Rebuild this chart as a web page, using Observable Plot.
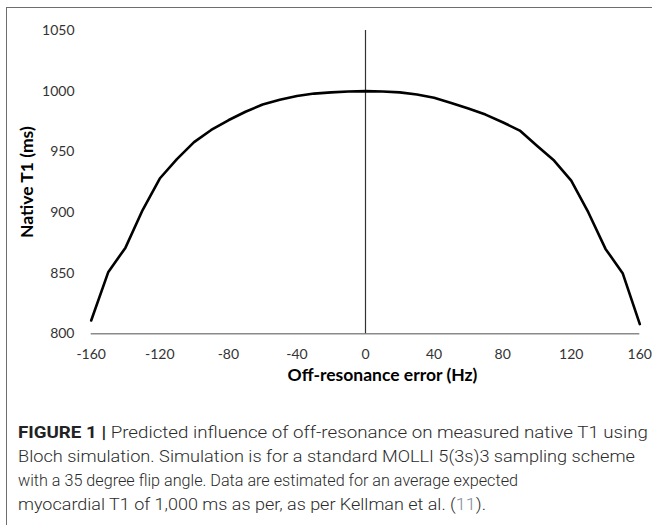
<!DOCTYPE html>
<html><head><meta charset="utf-8">
<script src="https://cdn.jsdelivr.net/npm/d3@7"></script>
<script src="https://cdn.jsdelivr.net/npm/@observablehq/plot@0.6"></script>
<style>
html,body{margin:0;padding:0;background:#fff}
body{width:652px;height:525px;overflow:hidden;position:relative}
#frame{position:absolute;left:6px;top:7px;right:-2px;bottom:-2px;border-left:1.6px solid #6e6e6e;border-top:1.6px solid #6e6e6e}
#chart{position:absolute;left:0;top:0}
#caption{position:absolute;left:18px;top:421px;font-family:Roboto,"Liberation Sans",Arial,sans-serif;font-weight:300;font-size:16.5px;line-height:24px;color:#2b2b2b}
#caption span.l{display:block;white-space:nowrap;transform-origin:0 50%}
#caption b{font-weight:bold;color:#222}
#caption .ref{color:#8090a0}
</style>
</head><body>
<div id="frame"></div>
<div id="chart"></div>
<div id="caption">
<span class="l" data-w="630"><b>FIGURE 1 |</b> Predicted influence of off-resonance on measured native T1 using</span>
<span class="l" data-w="617">Bloch simulation. Simulation is for a standard MOLLI 5(3s)3 sampling scheme</span>
<span class="l" data-w="500">with a 35 degree flip angle. Data are estimated for an average expected</span>
<span class="l" data-w="468">myocardial T1 of 1,000 ms as per, as per Kellman et al. (<span class="ref">11</span>).</span>
</div>
<script>
const offResonanceHz = [-160,-150,-140,-130,-120,-110,-100,-90,-80,-70,-60,-50,-40,-30,-20,-10,0,10,20,30,40,50,60,70,80,90,100,110,120,130,140,150,160];
const nativeT1 = [811,851,871,902,928,944,958,968,976,983,989,993,996,998,999,999.7,1000,999.7,999,997.2,994.5,990.3,985.7,980.7,974.4,967.5,955,942.8,926.3,900,870,850,808];
const xTicks = [-160,-120,-80,-40,0,40,80,120,160];
const yTicks = [800,850,900,950,1000,1050];
const xLabel = "Off-resonance error (Hz)";
const yLabel = "Native T1 (ms)";

const data = offResonanceHz.map((x,i)=>({x, y: nativeT1[i]}));

const chart = Plot.plot({
  width: 652,
  height: 400,
  marginLeft: 90.7,
  marginRight: 12.7,
  marginTop: 30,
  marginBottom: 66.7,
  style: {fontFamily: "Lato, sans-serif", fontSize: "14px", color: "#333", background: "transparent"},
  x: {domain: [-160,160]},
  y: {domain: [800,1050]},
  marks: [
    Plot.axisX({ticks: xTicks, tickSize: 0, tickPadding: 15, tickFormat: d=>String(d), fontSize: 14, label: null}),
    Plot.axisY({ticks: yTicks, tickSize: 0, tickPadding: 16.7, tickFormat: d=>String(d), fontSize: 14, label: null}),
    Plot.text([xLabel], {frameAnchor: "bottom", text: d=>d, dx: 17, dy: 47, fontWeight: "bold", fontSize: 17.5, fill: "#000"}),
    Plot.text([yLabel], {frameAnchor: "left", textAnchor: "middle", text: d=>d, rotate: -90, dx: -64, fontWeight: "bold", fontSize: 17.5, fill: "#000"}),
    Plot.ruleY([800], {stroke: "#8a8a8a", strokeWidth: 1.5}),
    Plot.ruleX([0], {y1: 800, y2: 1050, stroke: "#333", strokeWidth: 1.2}),
    Plot.line(data, {x: "x", y: "y", stroke: "#000", strokeWidth: 2.6, curve: "linear"})
  ]
});
document.getElementById("chart").appendChild(chart);
document.querySelectorAll("#caption span.l").forEach(s=>{
  s.style.display="inline-block";
  const nat = s.getBoundingClientRect().width;
  s.style.transform = `scaleX(${(+s.dataset.w)/nat})`;
  s.style.display="block";
  s.style.width = nat+"px";
});
</script>
</body></html>
